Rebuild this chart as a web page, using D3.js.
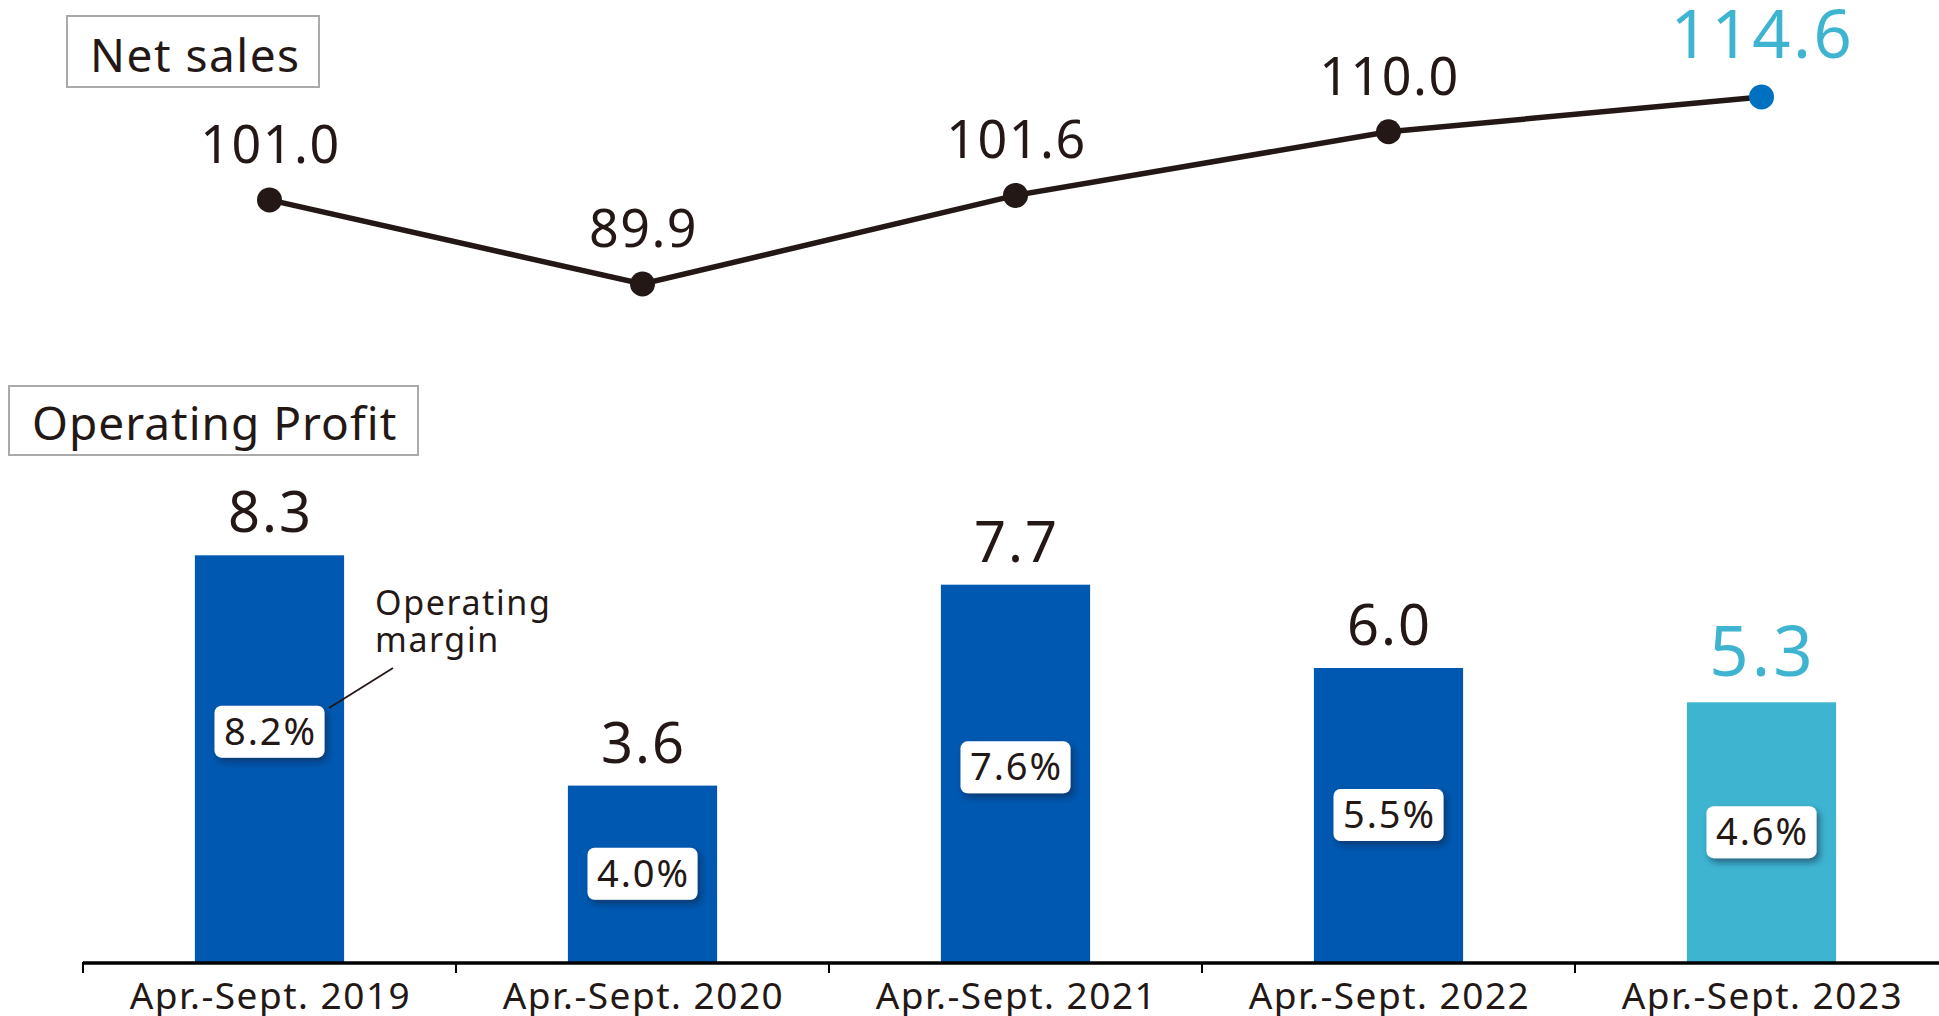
<!DOCTYPE html>
<html>
<head>
<meta charset="utf-8">
<script src="https://cdn.jsdelivr.net/npm/d3@7"></script>
<style>
  body { margin: 0; background: #fff; }
  svg { display: block; font-family: "Noto Sans", sans-serif; }
</style>
</head>
<body>
<div id="chart"></div>
<script>
const periods = ['Apr.-Sept. 2019', 'Apr.-Sept. 2020', 'Apr.-Sept. 2021', 'Apr.-Sept. 2022', 'Apr.-Sept. 2023'];
const netSales = [101.0, 89.9, 101.6, 110.0, 114.6];
const operatingProfit = [8.3, 3.6, 7.7, 6.0, 5.3];
const operatingMargin = [8.2, 4.0, 7.6, 5.5, 4.6];

const width = 1939;
const height = 1016;
const dark = '#231815';
const blue = '#0058b0';
const cyan = '#3eb4d1';
const latest = periods.length - 1;

const svg = d3.select('#chart').append('svg')
  .attr('width', width)
  .attr('height', height);

// drop shadow for the margin boxes
svg.append('defs').append('filter')
  .attr('id', 'shadow')
  .attr('x', '-20%').attr('y', '-30%')
  .attr('width', '150%').attr('height', '180%')
  .append('feDropShadow')
  .attr('dx', 3).attr('dy', 4)
  .attr('stdDeviation', 3)
  .attr('flood-color', '#0b2440')
  .attr('flood-opacity', 0.55);

const x = d3.scaleBand()
  .domain(periods)
  .range([83, 1948])
  .paddingInner(0.6)
  .paddingOuter(0.3);

const yLine = d3.scaleLinear().domain([80, 120]).range([359, 56]);
const yBar = d3.scaleLinear().domain([0, 10]).range([962, 472]);

const cx = d => x(d) + x.bandwidth() / 2;

// section titles
function titleBox(label, bx, by, bw, bh, tx, ty, ls) {
  svg.append('rect')
    .attr('x', bx).attr('y', by)
    .attr('width', bw).attr('height', bh)
    .attr('fill', '#fff')
    .attr('stroke', '#aaaaaa')
    .attr('stroke-width', 2);
  svg.append('text')
    .attr('x', tx).attr('y', ty)
    .attr('font-size', 46)
    .attr('letter-spacing', ls)
    .attr('fill', dark)
    .text(label);
}
titleBox('Net sales', 67, 16, 252, 71, 90, 72, 1.5);
titleBox('Operating Profit', 9, 386, 409, 69, 32, 440, 1);

// net sales line
const salesData = periods.map((p, i) => ({ p, v: netSales[i], i }));

svg.append('path')
  .datum(salesData)
  .attr('fill', 'none')
  .attr('stroke', dark)
  .attr('stroke-width', 5.5)
  .attr('d', d3.line().x(d => cx(d.p)).y(d => yLine(d.v)));

svg.append('g')
  .selectAll('circle')
  .data(salesData)
  .enter().append('circle')
  .attr('cx', d => cx(d.p))
  .attr('cy', d => yLine(d.v))
  .attr('r', 12.5)
  .attr('fill', d => d.i === latest ? '#0070c0' : dark);

svg.append('g')
  .selectAll('text')
  .data(salesData)
  .enter().append('text')
  .attr('x', d => cx(d.p) + 1)
  .attr('y', d => yLine(d.v) - (d.i === latest ? 39 : 37))
  .attr('text-anchor', 'middle')
  .attr('font-size', d => d.i === latest ? 67 : 52)
  .attr('letter-spacing', d => d.i === latest ? 2.5 : 1.5)
  .attr('fill', d => d.i === latest ? cyan : dark)
  .text(d => d.v.toFixed(1));

// operating profit bars
const profitData = periods.map((p, i) => ({ p, v: operatingProfit[i], m: operatingMargin[i], i }));

svg.append('g')
  .selectAll('rect')
  .data(profitData)
  .enter().append('rect')
  .attr('x', d => x(d.p))
  .attr('y', d => yBar(d.v))
  .attr('width', x.bandwidth())
  .attr('height', d => yBar(0) - yBar(d.v))
  .attr('fill', d => d.i === latest ? cyan : blue);

svg.append('g')
  .selectAll('text')
  .data(profitData)
  .enter().append('text')
  .attr('x', d => cx(d.p) + 1)
  .attr('y', d => yBar(d.v) - (d.i === latest ? 26 : 23))
  .attr('text-anchor', 'middle')
  .attr('font-size', d => d.i === latest ? 69 : 56)
  .attr('letter-spacing', d => d.i === latest ? 3 : 2)
  .attr('fill', d => d.i === latest ? cyan : dark)
  .text(d => d.v.toFixed(1));

// margin boxes in the middle of each bar
const boxMid = d => (yBar(d.v) + yBar(0)) / 2 - (d.i === 0 ? 27 : d.i === 2 ? 6 : 0);

const margin = svg.append('g')
  .selectAll('g')
  .data(profitData)
  .enter().append('g')
  .attr('transform', d => `translate(${cx(d.p)},${boxMid(d)})`);

margin.append('rect')
  .attr('x', -55).attr('y', -26)
  .attr('width', 110).attr('height', 52)
  .attr('rx', 7)
  .attr('fill', '#fff')
  .attr('filter', 'url(#shadow)');

margin.append('text')
  .attr('x', 1)
  .attr('y', 13)
  .attr('text-anchor', 'middle')
  .attr('font-size', 38)
  .attr('letter-spacing', 2)
  .attr('fill', dark)
  .text(d => d.m.toFixed(1) + '%');

// "Operating margin" note
const note = svg.append('text')
  .attr('font-size', 34)
  .attr('letter-spacing', 1.6)
  .attr('fill', dark);
note.append('tspan').attr('x', 375).attr('y', 615).text('Operating');
note.append('tspan').attr('x', 375).attr('y', 652).text('margin');

svg.append('line')
  .attr('x1', 393).attr('y1', 668)
  .attr('x2', 329).attr('y2', 708)
  .attr('stroke', dark)
  .attr('stroke-width', 1.8);

// x axis
const axis = svg.append('g');
axis.append('line')
  .attr('x1', 83).attr('x2', width)
  .attr('y1', yBar(0) + 1).attr('y2', yBar(0) + 1)
  .attr('stroke', '#000')
  .attr('stroke-width', 3.5);

axis.selectAll('.tick')
  .data(periods)
  .enter().append('line')
  .attr('x1', d => x(d) - x.step() * 0.3)
  .attr('x2', d => x(d) - x.step() * 0.3)
  .attr('y1', yBar(0))
  .attr('y2', yBar(0) + 11)
  .attr('stroke', '#000')
  .attr('stroke-width', 2);

axis.selectAll('.label')
  .data(periods)
  .enter().append('text')
  .attr('x', d => cx(d) + 1)
  .attr('y', 1009)
  .attr('text-anchor', 'middle')
  .attr('font-size', 37)
  .attr('letter-spacing', 1.5)
  .attr('fill', dark)
  .text(d => d);
</script>
</body>
</html>
